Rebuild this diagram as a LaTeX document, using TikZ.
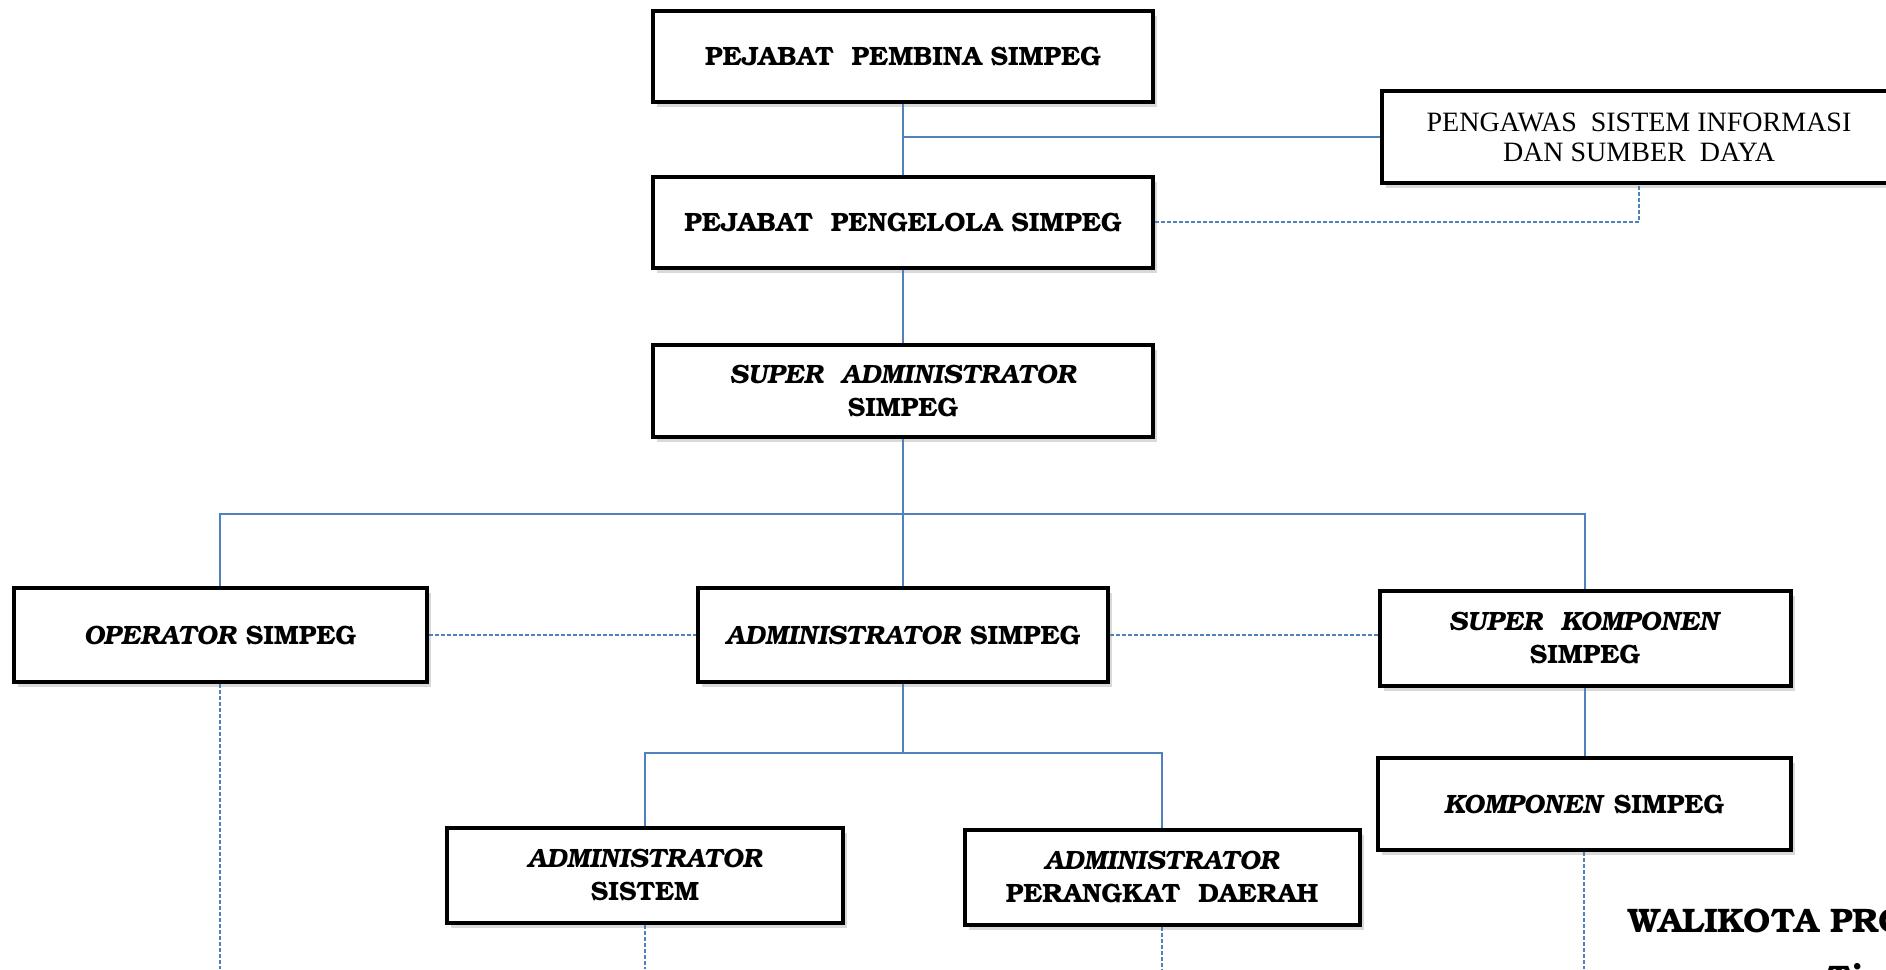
\documentclass[tikz,border=0pt]{standalone}
\usepackage{fontspec}
\setmainfont{TeX Gyre Bonum}
\newfontfamily\plainserif{Liberation Serif}
\usetikzlibrary{shadows}
\definecolor{linkblue}{RGB}{79,129,189}

\begin{document}
\begin{tikzpicture}[x=1pt,y=-1pt,
  unit/.style={draw=black, line width=4pt, fill=white, align=center,
    minimum width=410pt, minimum height=94pt, inner sep=0pt,
    font=\fontsize{26.5}{33}\selectfont\bfseries,
    drop shadow={shadow xshift=4pt, shadow yshift=-5pt, opacity=0.3}},
  wideunit/.style={unit, minimum width=500pt, minimum height=91pt},
  link/.style={draw=linkblue, line width=1.5pt},
  dotlink/.style={link, dash pattern=on 4pt off 2pt}]
\useasboundingbox (0,0) rectangle (1886,969);
\clip (0,0) rectangle (1886,969);
\coordinate (floor) at (0,969);
\coordinate (trunk) at (903,514);
\coordinate (fork) at (903,753);

 \node[wideunit] (pembina) at (903,56) {PEJABAT\ \ PEMBINA SIMPEG};
 \node[wideunit] (pengelola) at (903,222) {PEJABAT\ \ PENGELOLA SIMPEG};
 \node[wideunit, minimum height=92pt] (superadmin) at (903,391) {\textit{SUPER\ \ ADMINISTRATOR}\\SIMPEG};
 \node[unit, minimum width=514pt, minimum height=92pt,
   font=\fontsize{28}{30}\selectfont\plainserif] (pengawas) at (1639,137) {PENGAWAS\ \ SISTEM INFORMASI\\DAN SUMBER\ \ DAYA};

 \node[unit, minimum width=413pt] (operator) at (220,635) {\textit{OPERATOR} SIMPEG};
 \node[unit] (admin) at (903,635) {\textit{ADMINISTRATOR} SIMPEG};
 \node[unit, minimum width=411pt, minimum height=95pt] (superkomp) at (1585,638) {\textit{SUPER\ \ KOMPONEN}\\SIMPEG};
 \node[unit, minimum width=413pt, minimum height=92pt] (komponen) at (1584,804) {\textit{KOMPONEN} SIMPEG};

 \node[unit, minimum width=396pt, minimum height=95pt] (sistem) at (645,875) {\textit{ADMINISTRATOR}\\SISTEM};
 \node[unit, minimum width=395pt, minimum height=95pt] (perangkat) at (1162,877) {\textit{ADMINISTRATOR}\\PERANGKAT\ \ DAERAH};

 \draw[link] (pembina) -- (pengelola);
 \draw[link] (pengawas.west) -- (pengawas.west -| pembina.south);
 \draw[dotlink] (pengelola.east) -| (pengawas.south);
 \draw[link] (pengelola) -- (superadmin);
 \draw[link] (superadmin) -- (admin);
 \draw[link] (operator.north) |- (trunk) -| (superkomp.north);
 \draw[dotlink] (operator.east) -- (operator.east -| admin.west);
 \draw[dotlink] (admin.east) -- (admin.east -| superkomp.west);
 \draw[link] (admin) -- (fork);
 \draw[link] (sistem.north) |- (fork) -| (perangkat.north);
 \draw[link] (superkomp.south) -- (superkomp.south |- komponen.north);

 \draw[dotlink] (operator.south) -- (operator.south |- floor);
 \draw[dotlink] (sistem.south) -- (sistem.south |- floor);
 \draw[dotlink] (perangkat.south) -- (perangkat.south |- floor);
 \draw[dotlink] (komponen.south) -- (komponen.south |- floor);

 \node[anchor=base west, inner sep=0pt, font=\fontsize{34}{36}\selectfont\bfseries] (walikota) at (1628,932) {WALIKOTA PRO};
 \node[anchor=north west, inner sep=0pt, font=\fontsize{34}{36}\selectfont\bfseries] (tail) at (1827,963) {Ti};
\end{tikzpicture}
\end{document}
